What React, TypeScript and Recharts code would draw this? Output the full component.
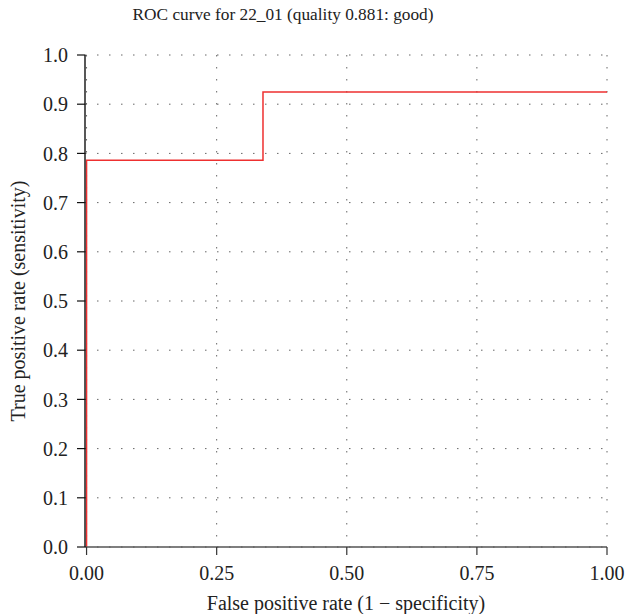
import React from 'react';
import { LineChart, Line, XAxis, YAxis, CartesianGrid } from 'recharts';

// ROC points (false positive rate, true positive rate)
const fpr = [0, 0, 0.339, 0.339, 1];
const tpr = [0, 0.786, 0.786, 0.925, 0.925];

const xTicks = [0, 0.25, 0.5, 0.75, 1];
const yTicks = [0, 0.1, 0.2, 0.3, 0.4, 0.5, 0.6, 0.7, 0.8, 0.9, 1];

const title = 'ROC curve for 22_01 (quality 0.881: good)';
const xLabel = 'False positive rate (1 \u2212 specificity)';
const yLabel = 'True positive rate (sensitivity)';

const font = '"Liberation Serif", "DejaVu Serif", serif';

const chartData = fpr.map((x, i) => ({ x, y: tpr[i] }));

const App = () => {
  return (
    <div style={{ position: 'absolute', left: 0, top: 0, width: 629, height: 614, background: '#fff', fontFamily: font }}>
      <div
        style={{
          position: 'absolute',
          left: 0,
          width: 566,
          top: 5,
          textAlign: 'center',
          fontSize: 17.3,
          color: '#222',
          fontFamily: font,
        }}
      >
        {title}
      </div>
      <LineChart
        width={629}
        height={614}
        data={chartData}
        margin={{ top: 55, right: 22, bottom: 0, left: 0 }}
      >
        <CartesianGrid
          stroke="#666"
          strokeDasharray="1.5 10.5"
          horizontalValues={yTicks}
          verticalValues={xTicks}
        />
        <XAxis
          dataKey="x"
          type="number"
          domain={[-0.003, 1]}
          ticks={xTicks}
          tickFormatter={(v: number) => v.toFixed(2)}
          height={67}
          axisLine={{ stroke: '#555', strokeWidth: 1.5 }}
          tickLine={{ stroke: '#333', strokeWidth: 1.2 }}
          tickSize={8}
          tickMargin={11}
          tick={{ fill: '#222', fontSize: 20, fontFamily: font }}
          label={{
            value: xLabel,
            position: 'insideBottom',
            offset: 4,
            fill: '#222',
            fontSize: 20,
            fontFamily: font,
          }}
        />
        <YAxis
          dataKey="y"
          type="number"
          domain={[0, 1]}
          ticks={yTicks}
          tickFormatter={(v: number) => v.toFixed(1)}
          width={85}
          axisLine={{ stroke: '#111', strokeWidth: 1.4 }}
          tickLine={{ stroke: '#111', strokeWidth: 1.2 }}
          tickSize={8}
          tickMargin={9}
          tick={{ fill: '#222', fontSize: 20, fontFamily: font }}
          label={{
            value: yLabel,
            angle: -90,
            position: 'insideLeft',
            offset: 18,
            style: { textAnchor: 'middle' },
            fill: '#222',
            fontSize: 20,
            fontFamily: font,
          }}
        />
        <Line
          type="linear"
          dataKey="y"
          stroke="#ee3030"
          strokeWidth={1.5}
          dot={false}
          isAnimationActive={false}
        />
      </LineChart>
    </div>
  );
};

export default App;
